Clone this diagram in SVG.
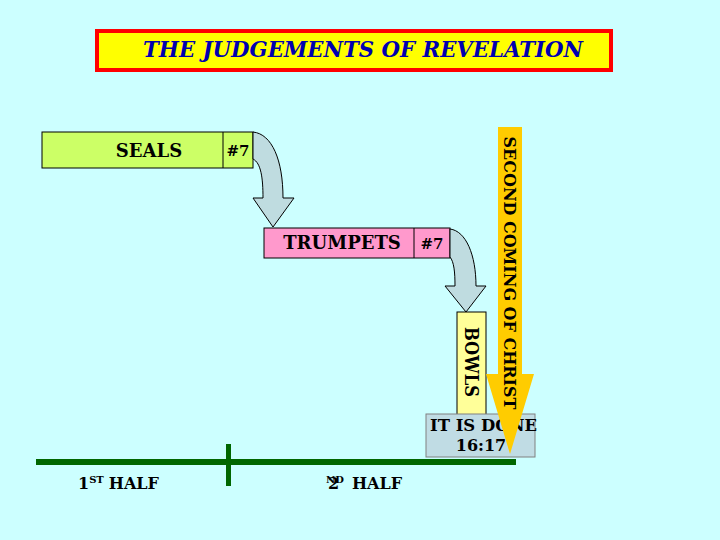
<svg xmlns="http://www.w3.org/2000/svg" width="720" height="540" viewBox="0 0 720 540">
<style>
.lbl{font-family:"DejaVu Serif","Liberation Serif",serif;font-weight:bold;fill:#000}
.box{stroke:#000;stroke-width:1}
.bend{fill:#BFDCE0;stroke:#000;stroke-width:1}
</style>
<rect x="0" y="0" width="720" height="540" fill="#CCFFFF"/>
<g id="title">
<rect x="97" y="31" width="514" height="39" fill="#FFFF00" stroke="#FF0000" stroke-width="4"/>
<text x="143" y="57" class="lbl" style="font-style:italic;fill:#0000B0" font-size="22" textLength="440" lengthAdjust="spacingAndGlyphs">THE JUDGEMENTS OF REVELATION</text>
</g>
<g id="seals">
<rect x="42" y="132" width="211" height="36" fill="#CCFF66" class="box"/>
<line x1="223" y1="132" x2="223" y2="168" stroke="#000"/>
<text x="149" y="157" class="lbl" font-size="18" text-anchor="middle">SEALS</text>
<text x="238" y="156" class="lbl" font-size="15" text-anchor="middle">#7</text>
</g>
<g id="trumpets">
<rect x="264" y="228" width="186" height="30" fill="#FF99CC" class="box"/>
<line x1="414" y1="228" x2="414" y2="258" stroke="#000"/>
<text x="342" y="249" class="lbl" font-size="18" text-anchor="middle">TRUMPETS</text>
<text x="432" y="249" class="lbl" font-size="15" text-anchor="middle">#7</text>
</g>
<g id="connectors">
<path class="bend" d="M253,132 C272,134 283,160 283,198 L294,198 L273,227 L253,198 L263,198 C263,178 261,163 253,159 Z"/>
<path class="bend" d="M450,229 C466,231 476,255 476,286 L486,286 L466,312 L445,286 L455,286 C455,272 454,262 450,257 Z"/>
</g>
<g id="bowls">
<rect x="457" y="312" width="29" height="103" fill="#FFFF99" class="box"/>
<text transform="translate(465,362) rotate(90)" class="lbl" font-size="18" text-anchor="middle" textLength="70" lengthAdjust="spacingAndGlyphs">BOWLS</text>
</g>
<g id="done">
<rect x="426" y="414" width="109" height="43" fill="#C0DCE4" stroke="#808080" stroke-width="1"/>
<text x="430" y="431" class="lbl" font-size="16" textLength="107" lengthAdjust="spacingAndGlyphs">IT IS DONE</text>
<text x="481" y="451" class="lbl" font-size="16" text-anchor="middle">16:17</text>
</g>
<g id="second-coming">
<path d="M498,127 L522,127 L522,374 L534,374 L510,454 L486,374 L498,374 Z" fill="#FFCC00"/>
<text transform="translate(504,273) rotate(90)" class="lbl" font-size="17" text-anchor="middle" textLength="273" lengthAdjust="spacingAndGlyphs">SECOND COMING OF CHRIST</text>
</g>
<g id="timeline">
<rect x="36" y="459" width="480" height="6" fill="#006600"/>
<rect x="226" y="444" width="5" height="42" fill="#006600"/>
<text x="78" y="489" class="lbl" font-size="16">1<tspan font-size="10" dy="-6">ST</tspan><tspan dy="6" dx="5">HALF</tspan></text>
<text x="328" y="489" class="lbl" font-size="16">2<tspan x="326" dy="-6" font-size="10">ND</tspan><tspan x="352" dy="6">HALF</tspan></text>
</g>
</svg>
